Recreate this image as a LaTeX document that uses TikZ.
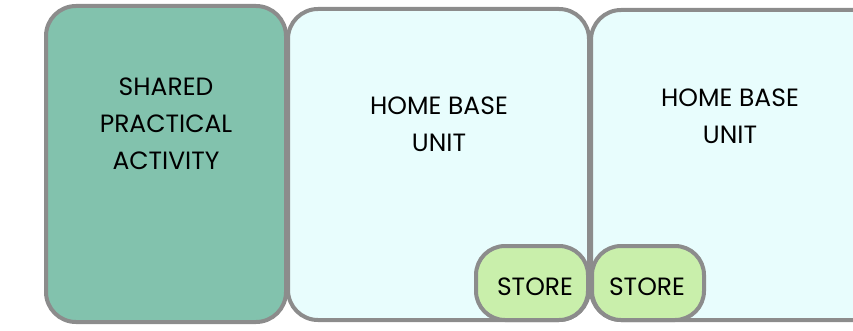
\documentclass[tikz,border=0pt]{standalone}
\usepackage{fontspec}
\setmainfont{Poppins}
\definecolor{edgegray}{HTML}{8C8C8C}
\definecolor{sharedfill}{HTML}{82C2AD}
\definecolor{homefill}{HTML}{E8FDFD}
\definecolor{storefill}{HTML}{C9EFAB}
\begin{document}
\begin{tikzpicture}[x=1pt,y=1pt,
  boxstyle/.style={draw=edgegray, line width=4pt, rounded corners=30pt, rectangle, inner sep=0pt},
  storebox/.style={draw=edgegray, line width=4pt, rounded corners=29pt, fill=storefill, rectangle, inner sep=0pt, minimum width=112pt, minimum height=74pt},
  lbl/.style={align=center, font=\fontsize{25}{37}\selectfont, text=black, inner sep=0pt}]
\useasboundingbox (0,0) rectangle (853,330);
\clip (0,0) rectangle (853,330);
\node[boxstyle, fill=sharedfill, minimum width=240pt, minimum height=316pt] (sharedbox) at (166,166) {};
\node[boxstyle, fill=homefill, minimum width=301pt, minimum height=311pt] (homebox1) at (438.5,165.5) {};
\node[boxstyle, fill=homefill, minimum width=309pt, minimum height=310pt] (homebox2) at (745.5,165) {};
\node[storebox] (storebox1) at (532,47) {};
\node[storebox] (storebox2) at (648,47) {};
\node[lbl] (shared) at (166,206) {SHARED\\PRACTICAL\\ACTIVITY};
\node[lbl] (home1) at (439,205.5) {HOME BASE\\UNIT};
\node[lbl] (home2) at (730,213.5) {HOME BASE\\UNIT};
\node[lbl] (store1) at (535,43) {STORE};
\node[lbl] (store2) at (647,43) {STORE};
\end{tikzpicture}
\end{document}
